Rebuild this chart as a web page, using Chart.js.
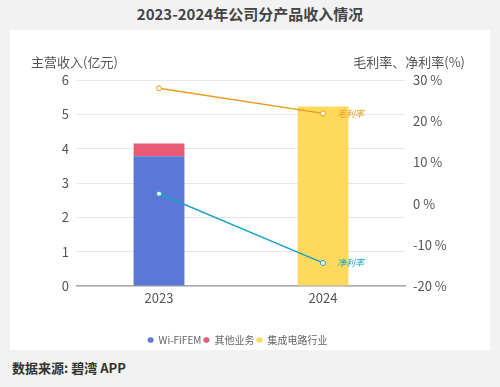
<!DOCTYPE html>
<html><head><meta charset="utf-8">
<script src="https://cdn.jsdelivr.net/npm/chart.js@4/dist/chart.umd.min.js"></script>
<style>
html,body{margin:0;padding:0;background:#f2f2f2;width:500px;height:387px;overflow:hidden;font-family:"Noto Sans CJK SC","Noto Sans",sans-serif;}
#title{position:absolute;left:0;top:3px;width:500px;text-align:center;font-size:15px;font-weight:bold;color:#444;}
#panel{position:absolute;left:10px;top:30px;width:480px;height:320px;background:#fff;}
#c{position:absolute;left:0;top:0;}
#foot{position:absolute;left:12px;top:358px;font-size:13px;font-weight:bold;color:#333;}
</style></head><body>
<div id="title">2023-2024年公司分产品收入情况</div>
<div id="panel"><canvas id="c" width="480" height="327"></canvas></div>
<div id="foot">数据来源: 碧湾 APP</div>
<script>
const categories = ["2023","2024"];
const wifiFem = [3.78, null];
const otherBiz = [0.37, null];
const icIndustry = [null, 5.23];
const grossMargin = [28.0, 21.9];
const netMargin = [2.4, -14.4];
const leftTicks = [0,1,2,3,4,5,6];
const rightTicks = [-20,-10,0,10,20,30];

const FONT = '"Noto Sans CJK SC","Noto Sans",sans-serif';
const lineLabels = {
  id:'lineLabels',
  afterDatasetsDraw(chart){
    const ctx = chart.ctx;
    chart.data.datasets.forEach((ds,i)=>{
      if(ds.type!=='line') return;
      const meta = chart.getDatasetMeta(i);
      const p = meta.data[meta.data.length-1];
      ctx.save();
      ctx.font = 'italic 9px '+FONT;
      ctx.fillStyle = ds.borderColor;
      ctx.textBaseline='middle';
      ctx.fillText(ds.label, p.x+14, p.y);
      ctx.restore();
    });
  }
};
const axisTitles = {
  id:'axisTitles',
  afterDraw(chart){
    const ctx = chart.ctx;
    ctx.save();
    ctx.font = '13px '+FONT;
    ctx.fillStyle = '#555';
    ctx.textBaseline='middle';
    ctx.textAlign='left';
    ctx.fillText('主营收入(亿元)', 21, 32);
    ctx.textAlign='right';
    ctx.fillText('毛利率、净利率(%)', 455, 32);
    ctx.restore();
  }
};

new Chart(document.getElementById('c'),{
  data:{
    labels:categories,
    datasets:[
      {type:'line',label:'毛利率',data:grossMargin,yAxisID:'y1',borderColor:'#e89a1c',backgroundColor:'#fff',borderWidth:1.5,pointRadius:2.5,pointBorderWidth:1,pointBackgroundColor:'#fff',pointBorderColor:'#e89a1c',order:0},
      {type:'line',label:'净利率',data:netMargin,yAxisID:'y1',borderColor:'#1aa3c4',backgroundColor:'#fff',borderWidth:1.5,pointRadius:2.5,pointBorderWidth:1,pointBackgroundColor:'#fff',pointBorderColor:'#1aa3c4',order:0},
      {type:'bar',label:'Wi-FiFEM',data:wifiFem,backgroundColor:'#5b78d8',stack:'s',yAxisID:'y',barPercentage:1,categoryPercentage:0.31,order:1},
      {type:'bar',label:'其他业务',data:otherBiz,backgroundColor:'#ea5a74',stack:'s',yAxisID:'y',barPercentage:1,categoryPercentage:0.31,order:1},
      {type:'bar',label:'集成电路行业',data:icIndustry,backgroundColor:'#ffd95c',stack:'s',yAxisID:'y',barPercentage:1,categoryPercentage:0.31,order:1}
    ]
  },
  options:{
    responsive:false,animation:false,
    layout:{padding:{top:50,right:25,left:0,bottom:2}},
    plugins:{
      legend:{position:'bottom',labels:{filter:(it)=>it.datasetIndex>=2,boxWidth:4,boxHeight:4,usePointStyle:true,pointStyle:'circle',pointStyleWidth:6,font:{size:10,family:FONT},color:'#666',padding:2}},
      tooltip:{enabled:false}
    },
    scales:{
      x:{stacked:true,grid:{display:false,drawTicks:false},border:{color:'#aaa',width:1.5},ticks:{color:'#555',font:{size:13,family:FONT},padding:4},afterFit(a){a.height=47;}},
      y:{stacked:true,position:'left',min:0,max:6,afterBuildTicks(a){a.ticks=leftTicks.map(v=>({value:v}));},
         grid:{color:'#e6e6e6',drawTicks:false},border:{display:false},
         ticks:{color:'#555',font:{size:13,family:FONT},padding:8},afterFit(a){a.width=67;}},
      y1:{position:'right',min:-20,max:30,afterBuildTicks(a){a.ticks=rightTicks.map(v=>({value:v}));},
         grid:{display:false,drawTicks:false},border:{display:false},
         ticks:{color:'#555',font:{size:13,family:FONT},padding:8,callback:v=>v+' %'},afterFit(a){a.width=60;}}
    }
  },
  plugins:[lineLabels,axisTitles]
});
</script>
</body></html>
